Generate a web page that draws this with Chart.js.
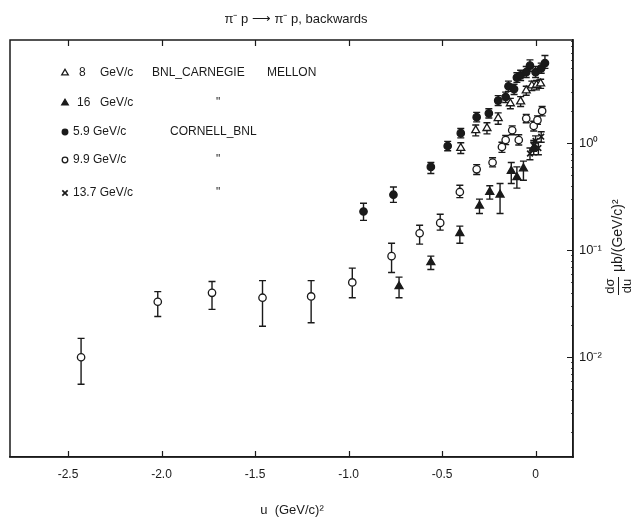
<!DOCTYPE html>
<html>
<head>
<meta charset="utf-8">
<script src="https://cdn.jsdelivr.net/npm/chart.js@4.4.0/dist/chart.umd.min.js"></script>
<style>
  html, body { margin: 0; padding: 0; background: #fff; }
  #wrap { position: relative; width: 637px; height: 524px; }
</style>
</head>
<body>
<div id="wrap"><canvas id="c" width="637" height="524"></canvas></div>
<script>
// axes
const xTicks = [-2.5, -2.0, -1.5, -1.0, -0.5, 0];
const xTickLabels = ['-2.5', '-2.0', '-1.5', '-1.0', '-0.5', '0'];
const yTicks = [0.01, 0.1, 1];
const yTickLabels = ['10⁻²', '10⁻¹', '10⁰'];

// 8 GeV/c  BNL-Carnegie Mellon (open triangles)
const u8   = [-0.40, -0.32, -0.26, -0.20, -0.135, -0.08, -0.05, -0.02, 0.005, 0.027];
const s8   = [0.90, 1.32, 1.38, 1.71, 2.35, 2.45, 3.1, 3.45, 3.5, 3.6];
const lo8  = [0.80, 1.17, 1.22, 1.50, 2.10, 2.20, 2.8, 3.1, 3.15, 3.25];
const hi8  = [1.01, 1.48, 1.55, 1.92, 2.62, 2.72, 3.4, 3.8, 3.85, 3.95];

// 16 GeV/c  BNL-Carnegie Mellon (filled triangles)
const u16  = [-0.73, -0.56, -0.405, -0.30, -0.245, -0.19, -0.13, -0.10, -0.065, -0.01];
const s16  = [0.046, 0.077, 0.144, 0.26, 0.35, 0.33, 0.55, 0.48, 0.58, 0.90];
const lo16 = [0.036, 0.066, 0.116, 0.22, 0.30, 0.22, 0.42, 0.38, 0.45, 0.78];
const hi16 = [0.056, 0.088, 0.168, 0.30, 0.40, 0.42, 0.66, 0.60, 0.68, 1.02];

// 5.9 GeV/c  Cornell-BNL (filled circles)
const u59  = [-0.92, -0.76, -0.56, -0.47, -0.40, -0.315, -0.25, -0.20, -0.16, -0.145, -0.115, -0.10, -0.08, -0.05, -0.03, 0.0, 0.03, 0.05];
const s59  = [0.23, 0.33, 0.60, 0.94, 1.24, 1.75, 1.9, 2.5, 2.7, 3.4, 3.2, 4.1, 4.3, 4.6, 5.3, 4.6, 5.0, 5.6];
const lo59 = [0.19, 0.28, 0.52, 0.85, 1.12, 1.58, 1.72, 2.25, 2.4, 3.05, 2.85, 3.7, 3.85, 4.1, 4.7, 4.1, 4.5, 5.0];
const hi59 = [0.275, 0.39, 0.66, 1.04, 1.37, 1.94, 2.1, 2.78, 3.0, 3.8, 3.55, 4.55, 4.8, 5.2, 6.0, 5.2, 5.6, 6.6];

// 9.9 GeV/c  Cornell-BNL (open circles)
const u99  = [-2.43, -2.02, -1.73, -1.46, -1.20, -0.98, -0.77, -0.62, -0.51, -0.405, -0.315, -0.23, -0.18, -0.16, -0.125, -0.09, -0.05, -0.01, 0.01, 0.035];
const s99  = [0.0100, 0.033, 0.040, 0.036, 0.037, 0.050, 0.088, 0.144, 0.18, 0.35, 0.57, 0.66, 0.92, 1.07, 1.32, 1.07, 1.7, 1.45, 1.64, 2.0];
const lo99 = [0.0056, 0.024, 0.028, 0.0195, 0.021, 0.036, 0.062, 0.114, 0.154, 0.31, 0.51, 0.60, 0.82, 0.97, 1.2, 0.96, 1.55, 1.3, 1.5, 1.8];
const hi99 = [0.015, 0.041, 0.051, 0.052, 0.052, 0.068, 0.116, 0.171, 0.217, 0.405, 0.63, 0.73, 1.02, 1.18, 1.45, 1.2, 1.85, 1.6, 1.8, 2.2];

// 13.7 GeV/c  Cornell-BNL (crosses)
const u137  = [-0.03, -0.01, 0.0, 0.015, 0.03];
const s137  = [0.80, 0.95, 1.05, 0.90, 1.15];
const lo137 = [0.70, 0.84, 0.93, 0.78, 1.02];
const hi137 = [0.90, 1.06, 1.17, 1.02, 1.28];

const INK = '#1a1a1a';
const FONT = '"Liberation Sans", Arial, sans-serif';

function pts(u, s, lo, hi) {
  return u.map((x, i) => ({ x: x, y: s[i], lo: lo[i], hi: hi[i] }));
}

function series(label, data, style, fill, r) {
  return {
    label: label,
    data: data,
    pointStyle: style,
    pointRadius: r,
    pointHoverRadius: r,
    backgroundColor: fill,
    borderColor: INK,
    borderWidth: style === 'crossRot' ? 1.7 : 1.3,
    showLine: false
  };
}

const datasets = [
  series('8 GeV/c', pts(u8, s8, lo8, hi8), 'triangle', '#fff', 4.6),
  series('16 GeV/c', pts(u16, s16, lo16, hi16), 'triangle', INK, 4.6),
  series('5.9 GeV/c', pts(u59, s59, lo59, hi59), 'circle', INK, 3.7),
  series('9.9 GeV/c', pts(u99, s99, lo99, hi99), 'circle', '#fff', 3.7),
  series('13.7 GeV/c', pts(u137, s137, lo137, hi137), 'crossRot', INK, 4)
];

// vertical error bars with caps, drawn under the markers
const errorBars = {
  id: 'errorBars',
  beforeDatasetsDraw(chart) {
    const ctx = chart.ctx, x = chart.scales.x, y = chart.scales.y;
    ctx.save();
    ctx.strokeStyle = INK;
    ctx.lineWidth = 1.4;
    chart.data.datasets.forEach(ds => {
      ds.data.forEach(p => {
        const px = x.getPixelForValue(p.x);
        const y1 = y.getPixelForValue(p.lo), y2 = y.getPixelForValue(p.hi);
        ctx.beginPath();
        ctx.moveTo(px, y1); ctx.lineTo(px, y2);
        ctx.moveTo(px - 3.5, y1); ctx.lineTo(px + 3.5, y1);
        ctx.moveTo(px - 3.5, y2); ctx.lineTo(px + 3.5, y2);
        ctx.stroke();
      });
    });
    ctx.restore();
  }
};

// frame, inward ticks, titles and the hand-lettered legend
const decor = {
  id: 'decor',
  afterDraw(chart) {
    const ctx = chart.ctx, a = chart.chartArea;
    const x = chart.scales.x, y = chart.scales.y;
    ctx.save();
    ctx.strokeStyle = INK;
    ctx.lineWidth = 1.5;
    ctx.strokeRect(a.left, a.top, a.right - a.left, a.bottom - a.top);

    ctx.lineWidth = 1.2;
    ctx.beginPath();
    xTicks.forEach(v => {
      const px = Math.round(x.getPixelForValue(v)) + 0.5;
      ctx.moveTo(px, a.bottom); ctx.lineTo(px, a.bottom - 6);
      ctx.moveTo(px, a.top); ctx.lineTo(px, a.top + 6);
    });
    yTicks.forEach(v => {
      const py = Math.round(y.getPixelForValue(v)) + 0.5;
      ctx.moveTo(a.right, py); ctx.lineTo(a.right - 6, py);
    });
    ctx.stroke();
    ctx.lineWidth = 0.8;
    ctx.beginPath();
    for (let d = -3; d <= 0; d++) {
      for (let m = 2; m <= 9; m++) {
        const v = m * Math.pow(10, d);
        if (v < y.min || v > y.max) continue;
        const py = Math.round(y.getPixelForValue(v)) + 0.5;
        ctx.moveTo(a.right, py); ctx.lineTo(a.right - 2, py);
      }
    }
    ctx.stroke();

    ctx.fillStyle = INK;
    ctx.textBaseline = 'middle';

    // title
    ctx.font = '13px ' + FONT;
    ctx.textAlign = 'center';
    ctx.fillText('π⁻ p ⟶ π⁻ p, backwards', 296, 19);

    // x axis title
    ctx.font = '13px ' + FONT;
    ctx.fillText('u  (GeV/c)²', 292, 510);

    // y axis title, rotated on the right
    ctx.save();
    ctx.translate(618, 240);
    ctx.rotate(-Math.PI / 2);
    ctx.font = '13px ' + FONT;
    ctx.textAlign = 'center';
    ctx.fillText('dσ', -46, -8);
    ctx.fillText('du', -46, 9);
    ctx.lineWidth = 1;
    ctx.beginPath();
    ctx.moveTo(-55, 0.5); ctx.lineTo(-37, 0.5);
    ctx.stroke();
    ctx.textAlign = 'left';
    ctx.font = '14px ' + FONT;
    ctx.fillText('μb/(GeV/c)²', -32, 0);
    ctx.restore();

    // legend
    const rows = [
      { ds: 0, y: 73, mom: '8', momX: 79, unitX: 100, labs: [['BNL_CARNEGIE', 152], ['MELLON', 267]] },
      { ds: 1, y: 103, mom: '16', momX: 77, unitX: 100, labs: [['"', 216]] },
      { ds: 2, y: 132, mom: '5.9 GeV/c', momX: 73, unitX: null, labs: [['CORNELL_BNL', 170]] },
      { ds: 3, y: 160, mom: '9.9 GeV/c', momX: 73, unitX: null, labs: [['"', 216]] },
      { ds: 4, y: 193, mom: '13.7 GeV/c', momX: 73, unitX: null, labs: [['"', 216]] }
    ];
    ctx.font = '12px ' + FONT;
    ctx.textAlign = 'left';
    rows.forEach(r => {
      const ds = chart.data.datasets[r.ds];
      ctx.fillStyle = ds.backgroundColor;
      ctx.strokeStyle = INK;
      ctx.lineWidth = ds.borderWidth;
      Chart.helpers.drawPoint(ctx, {
        pointStyle: ds.pointStyle,
        radius: ds.pointStyle === 'circle' ? 2.8 : 3.8,
        rotation: 0,
        borderWidth: ds.borderWidth
      }, 65, r.y);
      ctx.fillStyle = INK;
      ctx.fillText(r.mom, r.momX, r.y);
      if (r.unitX) ctx.fillText('GeV/c', r.unitX, r.y);
      r.labs.forEach(l => ctx.fillText(l[0], l[1], r.y));
    });
    ctx.restore();
  }
};

new Chart(document.getElementById('c'), {
  type: 'scatter',
  data: { datasets: datasets },
  options: {
    responsive: false,
    animation: false,
    events: [],
    layout: { padding: { left: 10, top: 40, right: 0, bottom: 0 } },
    plugins: {
      legend: { display: false },
      tooltip: { enabled: false },
      title: { display: false }
    },
    scales: {
      x: {
        type: 'linear',
        position: 'bottom',
        min: -2.81,
        max: 0.2,
        afterBuildTicks: s => { s.ticks = xTicks.map(v => ({ value: v })); },
        afterFit: s => { s.height = 67; },
        grid: { display: true, drawOnChartArea: false, drawTicks: false },
        border: { display: true, color: INK, width: 1.5 },
        ticks: {
          padding: 10,
          color: INK,
          font: { family: FONT, size: 12 },
          callback: (v, i) => xTickLabels[i]
        }
      },
      y: {
        type: 'logarithmic',
        position: 'right',
        min: 0.00117,
        max: 9.2,
        afterBuildTicks: s => { s.ticks = yTicks.map(v => ({ value: v, major: true })); },
        afterFit: s => { s.width = 64; },
        grid: { display: true, drawOnChartArea: false, drawTicks: false },
        border: { display: true, color: INK, width: 1.5 },
        ticks: {
          padding: 6,
          color: INK,
          font: { family: FONT, size: 13 },
          callback: (v, i) => yTickLabels[i]
        }
      }
    }
  },
  plugins: [errorBars, decor]
});
</script>
</body>
</html>
